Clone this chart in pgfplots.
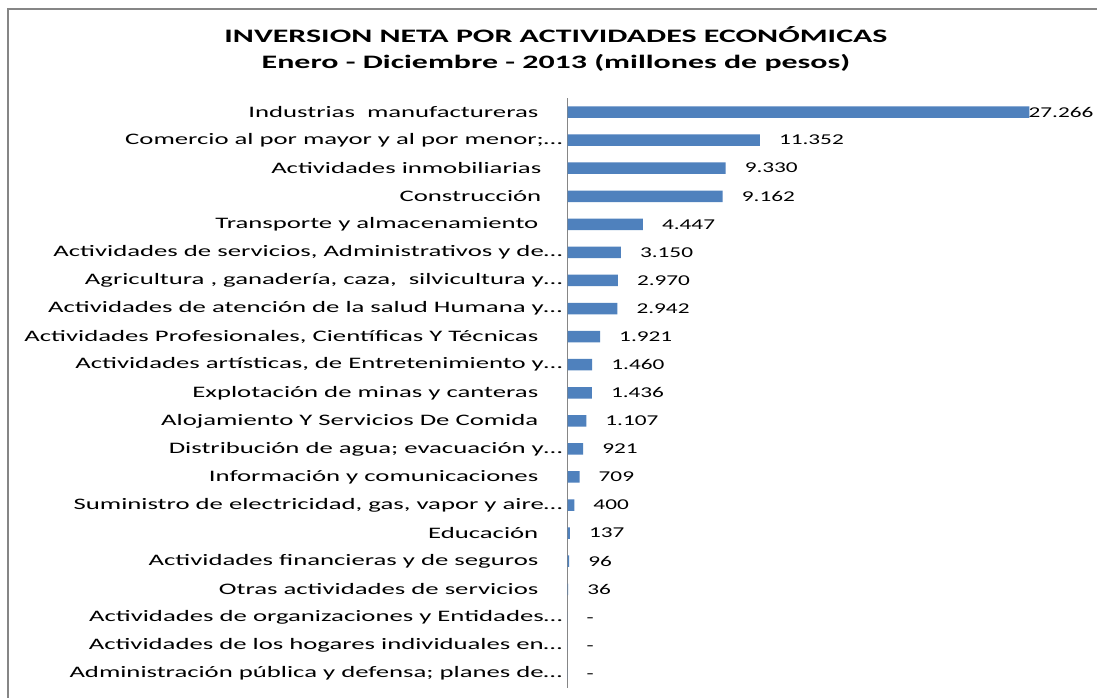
\documentclass[border=0pt]{standalone}
\usepackage{fontspec}
\setmainfont{Carlito}[FakeStretch=1.67]
\newfontfamily\valfont{Carlito}[FakeStretch=1.55]
\newfontfamily\titlefont{Carlito}[FakeStretch=1.68]
\usepackage{pgfplots}
\usepackage{pgfplotstable}
\pgfplotsset{compat=1.18}
\definecolor{barBlue}{RGB}{79,129,189}
\definecolor{lineGray}{RGB}{134,134,134}

\pgfplotstableread{
y x lab dx
0 27266 27.266 -1
1 11352 11.352 19
2 9330 9.330 19
3 9162 9.162 19
4 4447 4.447 19
5 3150 3.150 19
6 2970 2.970 19
7 2942 2.942 19
8 1921 1.921 19
9 1460 1.460 19
10 1436 1.436 19
11 1107 1.107 19
12 921 921 19
13 709 709 19
14 400 400 19
15 137 137 19
16 96 96 19
17 36 36 19
18 0 - 19
19 0 - 19
20 0 - 19
}\bardata

\begin{document}
\begin{tikzpicture}
\useasboundingbox (0bp,0bp) rectangle (1097bp,698bp);
\fill[white] (0bp,0bp) rectangle (1097bp,698bp);
\draw[lineGray, line width=1.5bp] (8bp,-5bp) -- (8bp,689bp) -- (1110bp,689bp);
\node[anchor=base, inner sep=0pt, font=\titlefont\fontsize{19bp}{25bp}\selectfont\bfseries] at (556bp,655bp) {INVERSION NETA POR ACTIVIDADES ECONÓMICAS};
\node[anchor=base, inner sep=0pt, font=\titlefont\fontsize{19bp}{25bp}\selectfont\bfseries] at (556bp,629bp) {Enero - Diciembre - 2013 (millones de pesos)};
\begin{axis}[
  at={(567.5bp,10.5bp)}, anchor=south west,
  scale only axis, width=508.2bp, height=589.5bp,
  xmin=0, xmax=30000, ymin=-0.5, ymax=20.5,
  y dir=reverse,
  axis x line=none, axis y line*=left,
  axis line style={-, draw=lineGray, line width=1.5bp},
  xtick=\empty,
  ytick={0,...,20},
  major tick length=0pt,
  clip=false,
  yticklabel style={anchor=east, inner sep=0pt, xshift=-5bp, font=\fontsize{16bp}{19bp}\selectfont},
  yticklabels={
    {Industrias\ \ manufactureras\hspace*{24bp}},
    {Comercio al por mayor y al por menor;…},
    {Actividades inmobiliarias\hspace*{21bp}},
    {Construcción\hspace*{21bp}},
    {Transporte y almacenamiento\hspace*{24bp}},
    {Actividades de servicios, Administrativos y de…},
    {Agricultura , ganadería, caza,\ \ silvicultura y…},
    {Actividades de atención de la salud Humana y…},
    {Actividades Profesionales, Científicas Y Técnicas\hspace*{24bp}},
    {Actividades artísticas, de Entretenimiento y…},
    {Explotación de minas y canteras\hspace*{24bp}},
    {Alojamiento Y Servicios De Comida\hspace*{24bp}},
    {Distribución de agua; evacuación y…},
    {Información y comunicaciones\hspace*{24bp}},
    {Suministro de electricidad, gas, vapor y aire…},
    {Educación\hspace*{24bp}},
    {Actividades financieras y de seguros\hspace*{24bp}},
    {Otras actividades de servicios\hspace*{24bp}},
    {Actividades de organizaciones y Entidades…},
    {Actividades de los hogares individuales en…},
    {Administración pública y defensa; planes de…}
  },
]
\addplot[xbar, bar width=11.5bp, bar shift=0pt, fill=barBlue, draw=none,
  point meta=explicit symbolic,
  visualization depends on={\thisrow{dx} \as \dx},
  nodes near coords={\vphantom{0}\pgfplotspointmeta},
  nodes near coords style={anchor=west, inner sep=0pt, xshift=\dx bp, text=black, font=\valfont\fontsize{15bp}{18bp}\selectfont}]
  table[x=x,y=y,meta=lab] {\bardata};
\end{axis}
\end{tikzpicture}
\end{document}
